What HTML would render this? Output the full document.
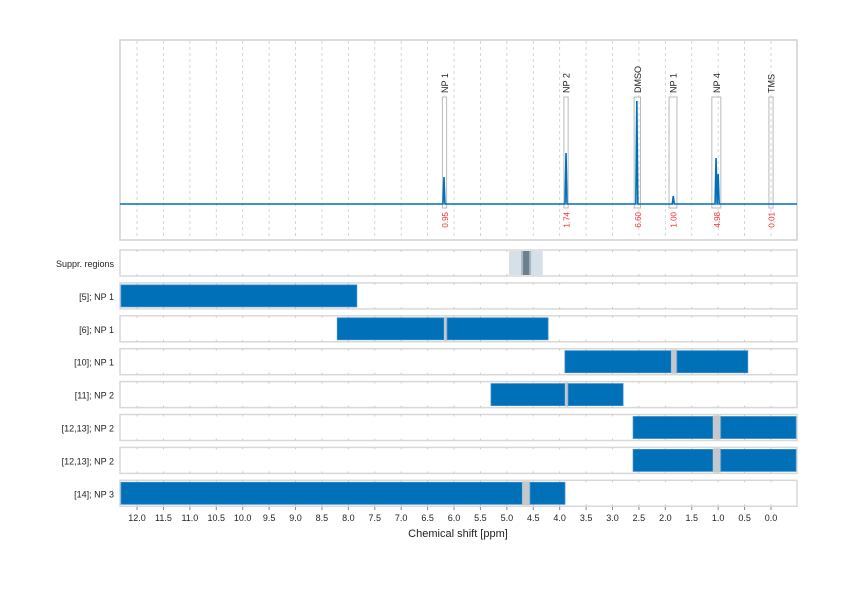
<!DOCTYPE html>
<html><head><meta charset="utf-8"><style>
body{margin:0;background:#fff;}
svg{display:block;font-family:"Liberation Sans",sans-serif;}
</style></head><body>
<svg id="c" width="842" height="595" viewBox="0 0 842 595"></svg>
<script>
const tickLabels=["12.0","11.5","11.0","10.5","10.0","9.5","9.0","8.5","8.0","7.5","7.0","6.5","6.0","5.5","5.0","4.5","4.0","3.5","3.0","2.5","2.0","1.5","1.0","0.5","0.0"];
const peakPpm=[6.19,3.88,2.54,1.85,1.04,1.0,0.0];
const peakHeight=[27,51,103,8,46,30,0];
const regionLabels=["NP 1","NP 2","DMSO","NP 1","NP 4","TMS"];
const regionFrom=[6.22,3.92,2.59,1.93,1.12,0.04];
const regionTo=[6.14,3.84,2.47,1.78,0.95,-0.04];
const integrals=["0.95","1.74","6.60","1.00","4.98","0.01"];
const rowLabels=["[5]; NP 1","[6]; NP 1","[10]; NP 1","[11]; NP 2","[12,13]; NP 2","[12,13]; NP 2","[14]; NP 3"];
const segFrom=[[12.32],[8.21,6.13],[3.90,1.78],[5.30,3.84],[2.61,0.95],[2.61,0.95],[12.32,4.56]];
const segTo=[[7.84],[6.19,4.22],[1.89,0.44],[3.90,2.80],[1.10,-0.49],[1.10,-0.49],[4.71,3.90]];
const supprOuter=[4.96,4.32];
const supprInner=[4.73,4.54];

const svg=document.getElementById('c');
const NS='http://www.w3.org/2000/svg';
const L=120,R=797;
function x(p){return 771-p*52.83;}
function mk(t,a,parent){const e=document.createElementNS(NS,t);for(const k in a)e.setAttribute(k,a[k]);(parent||svg).appendChild(e);return e;}
// spectrum panel
const sp=mk('rect',{x:L,y:40,width:R-L,height:200,fill:'#fff',stroke:'#d0d0d0','stroke-width':1.5});

tickLabels.forEach(t=>{const xx=x(parseFloat(t));
 const g=mk('line',{x1:xx,x2:xx,y1:41,y2:239,stroke:'#ccc','stroke-dasharray':'3,3','stroke-width':0.8});
 });
const base=204;
regionLabels.forEach((lab,i)=>{const x1=x(regionFrom[i]),x2=x(regionTo[i]);
 const b=mk('rect',{x:x1,y:97,width:x2-x1,height:111,fill:'none',stroke:'#bbb','stroke-width':1});
 
 const cx=(x1+x2)/2;
 const t=mk('text',{x:0,y:0,transform:`translate(${cx+3.5},93) rotate(-90)`,'font-size':9,fill:'#222'});t.textContent=lab;
 
 const v=mk('text',{x:0,y:0,transform:`translate(${cx+3.5},212) rotate(-90)`,'font-size':8,fill:'#f03030','text-anchor':'end'});v.textContent=integrals[i];
 });
let d=`M${L} ${base}`;
const order=peakPpm.map((p,i)=>i).sort((a,b)=>peakPpm[b]-peakPpm[a]);
order.forEach(i=>{const xx=x(peakPpm[i]);if(peakHeight[i]<=0)return;d+=` L${xx-1} ${base} L${xx} ${base-peakHeight[i]} L${xx+1} ${base}`;});
d+=` L${R} ${base}`;
const s=mk('path',{d:d,fill:'none',stroke:'#0070b8','stroke-width':1.6});

// rows
function rowY(i){return 250+i*32.9;}
function panel(y,name){const r=mk('rect',{x:L,y:y,width:R-L,height:26,fill:'#fff',stroke:'#d8d8d8','stroke-width':1.5});
 tickLabels.forEach(t=>{const xx=x(parseFloat(t));mk('line',{x1:xx,x2:xx,y1:y,y2:y+2,stroke:'#ccc'});mk('line',{x1:xx,x2:xx,y1:y+24,y2:y+26,stroke:'#ccc'});});}
panel(rowY(0),'suppr-regions-panel');
let t0=mk('text',{x:114,y:rowY(0)+17,'font-size':9,'text-anchor':'end',fill:'#222'});t0.textContent='Suppr. regions';

let so=mk('rect',{x:x(supprOuter[0]),y:rowY(0)+1,width:x(supprOuter[1])-x(supprOuter[0]),height:24,fill:'#d6e0e8'});

let si=mk('rect',{x:x(supprInner[0]),y:rowY(0)+1,width:x(supprInner[1])-x(supprInner[0]),height:24,fill:'#a8b8c4'});

let sc=mk('rect',{x:x(supprInner[0])+2,y:rowY(0)+1,width:x(supprInner[1])-x(supprInner[0])-4,height:24,fill:'#6c7f8c'});

rowLabels.forEach((lab,i)=>{const y=rowY(i+1);panel(y,'assignment-row');
 const t=mk('text',{x:114,y:y+17,'font-size':9,'text-anchor':'end',fill:'#222'});t.textContent=lab;
 
 segFrom[i].forEach((f,j)=>{const x1=Math.max(L+1,x(f)),x2=Math.min(R-1,x(segTo[i][j]));
  if(j>0){const gp=mk('rect',{x:x(segTo[i][j-1]),y:y+1,width:x1-x(segTo[i][j-1]),height:24,fill:'#c4c8cc'});}
  const b=mk('rect',{x:x1,y:y+2,width:x2-x1,height:22,fill:'#0070b8',stroke:'#3a8ccc','stroke-width':0.8});
  });});
// x axis
tickLabels.forEach(t=>{const xx=x(parseFloat(t));
 const tk=mk('line',{x1:xx,x2:xx,y1:507,y2:510,stroke:'#888'});
 const tl=mk('text',{x:xx,y:521,'font-size':9,'text-anchor':'middle',fill:'#222'});tl.textContent=t;
 });
const xt=mk('text',{x:458,y:537,'font-size':11,'text-anchor':'middle',fill:'#222'});xt.textContent='Chemical shift [ppm]';

</script>
</body></html>
